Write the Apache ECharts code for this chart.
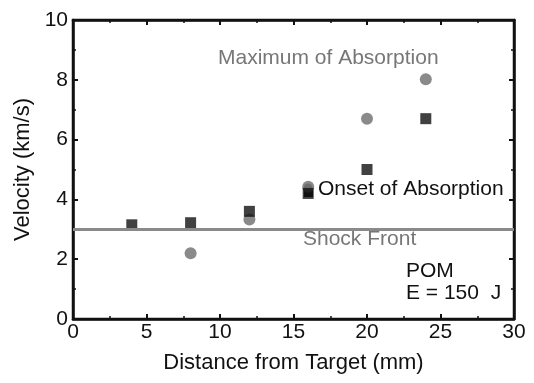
<!DOCTYPE html>
<html>
<head>
<meta charset="utf-8">
<script src="https://cdn.jsdelivr.net/npm/echarts@6/dist/echarts.min.js"></script>
<style>
  html, body { margin: 0; padding: 0; background: #fff; }
  #main { width: 534px; height: 383px; }
</style>
</head>
<body>
<div id="main"></div>
<script>
// distance from target (mm) and velocity (km/s)
var onsetX = [4, 8, 12, 16, 20, 24];
var onsetY = [3.15, 3.22, 3.6, 4.2, 5.0, 6.7];
var maxX = [8, 12, 16, 20, 24];
var maxY = [2.2, 3.33, 4.42, 6.7, 8.02];
var shockFront = 3;

var font = 'Liberation Sans, Arial, sans-serif';
var chart = echarts.init(document.getElementById('main'));

function pairs(xs, ys) {
  return xs.map(function (x, i) { return [x, ys[i]]; });
}

function axisLine() {
  return { show: true, onZero: false, lineStyle: { color: '#111', width: 2.5 } };
}
function tick() {
  return { show: true, inside: true, length: 5, lineStyle: { color: '#111', width: 2 } };
}
function minor() {
  return { show: true, splitNumber: 2, length: 3, lineStyle: { color: '#111', width: 1.5 } };
}

chart.setOption({
  animation: false,
  grid: { left: 73, right: 20, top: 20, bottom: 64, show: true,
    borderColor: '#111', borderWidth: 2.5, backgroundColor: 'transparent' },
  xAxis: [{
    type: 'value', min: 0, max: 30, interval: 5,
    name: 'Distance from Target (mm)', nameLocation: 'middle', nameGap: 33,
    nameTextStyle: { fontFamily: font, fontSize: 22, color: '#111' },
    axisLine: axisLine(), axisTick: tick(), minorTick: minor(),
    axisLabel: { fontFamily: font, fontSize: 21, color: '#111', margin: 3 },
    splitLine: { show: false }
  }, {
    type: 'value', min: 0, max: 30, interval: 5, position: 'top',
    axisLine: axisLine(), axisTick: tick(), minorTick: minor(),
    axisLabel: { show: false }, splitLine: { show: false }
  }],
  yAxis: [{
    type: 'value', min: 0, max: 10, interval: 2,
    name: 'Velocity (km/s)', nameLocation: 'middle', nameGap: 37,
    nameTextStyle: { fontFamily: font, fontSize: 22, color: '#111' },
    axisLine: axisLine(), axisTick: tick(), minorTick: minor(),
    axisLabel: { fontFamily: font, fontSize: 21, color: '#111', margin: 5 },
    splitLine: { show: false }
  }, {
    type: 'value', min: 0, max: 10, interval: 2, position: 'right',
    axisLine: axisLine(), axisTick: tick(), minorTick: minor(),
    axisLabel: { show: false }, splitLine: { show: false }
  }],
  series: [{
    name: 'Shock Front',
    type: 'line',
    xAxisIndex: 1, yAxisIndex: 1,
    data: [],
    markLine: {
      silent: true, symbol: 'none', label: { show: false },
      lineStyle: { color: '#8a8a8a', width: 3, type: 'solid' },
      data: [{ yAxis: shockFront }]
    }
  }, {
    name: 'Maximum of Absorption',
    type: 'scatter',
    symbol: 'circle', symbolSize: 12,
    itemStyle: { color: '#6d6d6d' },
    data: pairs(maxX, maxY),
    z: 3
  }, {
    name: 'Onset of Absorption',
    type: 'scatter',
    symbol: 'rect', symbolSize: 11,
    itemStyle: { color: '#111' },
    data: pairs(onsetX, onsetY),
    z: 4
  }],
  graphic: [
    { type: 'text', left: 218, top: 48,
      style: { text: 'Maximum of Absorption', font: '21px ' + font, fill: '#777' } },
    { type: 'circle', shape: { cx: 308, cy: 188, r: 4.5 }, style: { fill: '#6d6d6d' } },
    { type: 'rect', shape: { x: 304, y: 190, width: 9, height: 7 }, style: { fill: '#111' } },
    { type: 'text', left: 318, top: 179,
      style: { text: 'Onset of Absorption', font: '21px ' + font, fill: '#111' } },
    { type: 'text', left: 303, top: 229,
      style: { text: 'Shock Front', font: '21px ' + font, fill: '#777' } },
    { type: 'text', left: 406, top: 261,
      style: { text: 'POM', font: '21px ' + font, fill: '#111' } },
    { type: 'text', left: 406, top: 283,
      style: { text: 'E = 150  J', font: '21px ' + font, fill: '#111' } }
  ]
});
</script>
</body>
</html>
